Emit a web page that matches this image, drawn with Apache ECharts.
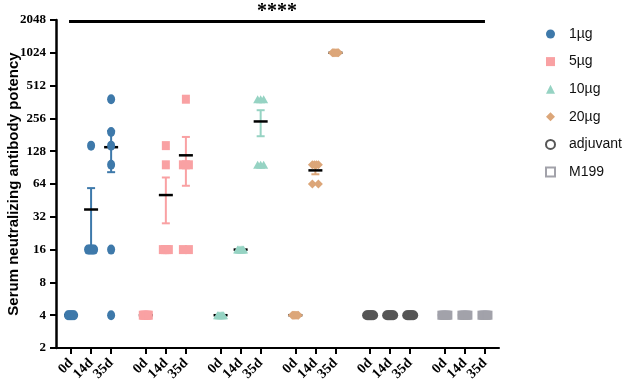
<!DOCTYPE html>
<html>
<head>
<meta charset="utf-8">
<style>
  html, body { margin: 0; padding: 0; background: #fff; }
  #chart { width: 624px; height: 390px; }
</style>
<script src="https://cdn.jsdelivr.net/npm/echarts@6/dist/echarts.min.js"></script>
</head>
<body>
<div id="chart"></div>
<script>
// time points and groups
var days = ['0d', '14d', '35d'];
var groupNames = ['1µg', '5µg', '10µg', '20µg', 'adjuvant', 'M199'];

// titers per mouse, one row per time point (0d, 14d, 35d)
var titer1ug = [[4, 4, 4, 4, 4, 4], [144, 16, 16, 16, 16, 16], [384, 192, 144, 96, 16, 4]];
var titer5ug = [[4, 4, 4, 4, 4, 4], [144, 96, 16, 16, 16, 16], [384, 96, 96, 96, 16, 16]];
var titer10ug = [[4, 4, 4, 4, 4, 4], [16, 16, 16, 16, 16, 16], [384, 384, 384, 96, 96, 96]];
var titer20ug = [[4, 4, 4, 4, 4, 4], [96, 96, 96, 96, 64, 64], [1024, 1024, 1024, 1024, 1024, 1024]];
var titerAdjuvant = [[4, 4, 4, 4, 4, 4], [4, 4, 4, 4, 4, 4], [4, 4, 4, 4, 4, 4]];
var titerM199 = [[4, 4, 4, 4, 4, 4], [4, 4, 4, 4, 4, 4], [4, 4, 4, 4, 4, 4]];

var yTicks = [2, 4, 8, 16, 32, 64, 128, 256, 512, 1024, 2048];
var signifText = '****';

var allTiters = [titer1ug, titer5ug, titer10ug, titer20ug, titerAdjuvant, titerM199];
var colors = ['#3e79aa', '#f9a1a3', '#96d3c3', '#dca679', '#565656', '#a2a2aa'];
var symbols = ['circle', 'rect', 'triangle', 'diamond', 'circle', 'rect'];
var sizes = [[8, 10], [8, 9], [9, 8], [9, 9], [10, 10], [9, 9]];
var legendIcons = ['circle', 'rect', 'triangle', 'diamond', 'emptyCircle', 'emptyRect'];

var stride = 3.73;
function xPos(g, i) { return g * stride + i; }

var serif = 'Liberation Serif';
var sans = 'Liberation Sans';

// x positions for tick labels
var tickPos = [];
var tickLabel = {};
groupNames.forEach(function (n, g) {
    days.forEach(function (d, i) {
        var p = +xPos(g, i).toFixed(2);
        tickPos.push(p);
        tickLabel[p] = d;
    });
});

function meanOf(arr) {
    return arr.reduce(function (a, b) { return a + b; }, 0) / arr.length;
}
function semOf(arr) {
    var m = meanOf(arr);
    var ss = arr.reduce(function (a, b) { return a + (b - m) * (b - m); }, 0);
    return Math.sqrt(ss / (arr.length - 1)) / Math.sqrt(arr.length);
}

var series = [];
var errData = [];
var meanData = [];

allTiters.forEach(function (rows, g) {
    var pts = [];
    rows.forEach(function (vals, i) {
        // spread repeated values sideways, like a scatter dot plot
        var counts = {};
        vals.forEach(function (v) { counts[v] = (counts[v] || 0) + 1; });
        var seen = {};
        vals.forEach(function (v) {
            var n = counts[v];
            var k = seen[v] || 0;
            seen[v] = k + 1;
            var off = n > 1 ? (-0.15 + 0.3 * k / (n - 1)) : 0;
            pts.push([xPos(g, i) + off, v]);
        });
        var m = meanOf(vals);
        var s = semOf(vals);
        if (s > 0) errData.push([xPos(g, i), m - s, m + s, g]);
        meanData.push([xPos(g, i), m]);
    });
    series.push({
        name: groupNames[g],
        type: 'scatter',
        symbol: symbols[g],
        symbolSize: sizes[g],
        itemStyle: { color: colors[g], opacity: 1 },
        z: 3,
        data: pts
    });
});

series.push({
    name: 'sem',
    type: 'custom',
    z: 2,
    data: errData,
    renderItem: function (params, api) {
        var x = api.value(0);
        var lo = api.coord([x, api.value(1)]);
        var hi = api.coord([x, api.value(2)]);
        var c = colors[api.value(3)];
        var st = { stroke: c, lineWidth: 2 };
        return {
            type: 'group',
            children: [
                { type: 'line', shape: { x1: lo[0], y1: lo[1], x2: hi[0], y2: hi[1] }, style: st },
                { type: 'line', shape: { x1: lo[0] - 4, y1: lo[1], x2: lo[0] + 4, y2: lo[1] }, style: st },
                { type: 'line', shape: { x1: hi[0] - 4, y1: hi[1], x2: hi[0] + 4, y2: hi[1] }, style: st }
            ]
        };
    }
});

series.push({
    name: 'mean',
    type: 'custom',
    z: 2,
    data: meanData,
    renderItem: function (params, api) {
        var p = api.coord([api.value(0), api.value(1)]);
        return {
            type: 'line',
            shape: { x1: p[0] - 7, y1: p[1], x2: p[0] + 7, y2: p[1] },
            style: { stroke: '#000', lineWidth: 2.5 }
        };
    }
});

// significance bar across all groups
series[0].markLine = {
    silent: true,
    symbol: 'none',
    lineStyle: { color: '#000', width: 3, type: 'solid' },
    label: {
        show: true,
        position: 'middle',
        formatter: signifText,
        color: '#000',
        fontFamily: serif,
        fontWeight: 'bold',
        fontSize: 20,
        distance: -1
    },
    data: [[{ coord: [xPos(0, 0) - 0.1, 2000] }, { coord: [xPos(5, 2), 2000] }]]
};

var chart = echarts.init(document.getElementById('chart'));
chart.setOption({
    animation: false,
    grid: { left: 56, right: 125, top: 20, bottom: 42, outerBoundsMode: 'none', containLabel: false },
    legend: {
        orient: 'vertical',
        left: 540,
        top: 22,
        itemWidth: 9,
        itemHeight: 9,
        itemGap: 13.6,
        data: groupNames.map(function (n, g) { return { name: n, icon: legendIcons[g] }; }),
        textStyle: { fontFamily: sans, fontSize: 14, color: '#111', lineHeight: 14, padding: [0, 0, 0, 9] }
    },
    xAxis: {
        type: 'value',
        min: -0.75,
        max: 21.35,
        splitLine: { show: false },
        axisLine: { onZero: false, lineStyle: { color: '#000', width: 2 } },
        axisTick: { customValues: tickPos, length: 6, lineStyle: { color: '#000', width: 2 } },
        axisLabel: {
            customValues: tickPos,
            rotate: 45,
            margin: 13,
            formatter: function (v) { return tickLabel[+(+v).toFixed(2)] || ''; },
            fontFamily: serif,
            fontWeight: 'bold',
            fontSize: 14,
            color: '#000'
        }
    },
    yAxis: {
        type: 'log',
        logBase: 2,
        min: 2,
        max: 2048,
        splitNumber: 10,
        name: 'Serum neutralizing antibody potency',
        nameLocation: 'middle',
        nameGap: 35,
        nameMoveOverlap: false,
        nameTextStyle: { fontFamily: sans, fontWeight: 'bold', fontSize: 15, color: '#000' },
        splitLine: { show: false },
        axisLine: { show: true, onZero: false, lineStyle: { color: '#000', width: 2.5 } },
        axisTick: { show: true, inside: false, customValues: yTicks, length: 6, lineStyle: { color: '#000', width: 2 } },
        axisLabel: {
            customValues: yTicks,
            margin: 10,
            formatter: function (v) { return String(Math.round(v)); },
            fontFamily: serif,
            fontWeight: 'bold',
            fontSize: 13,
            color: '#000'
        }
    },
    series: series
});
</script>
</body>
</html>
